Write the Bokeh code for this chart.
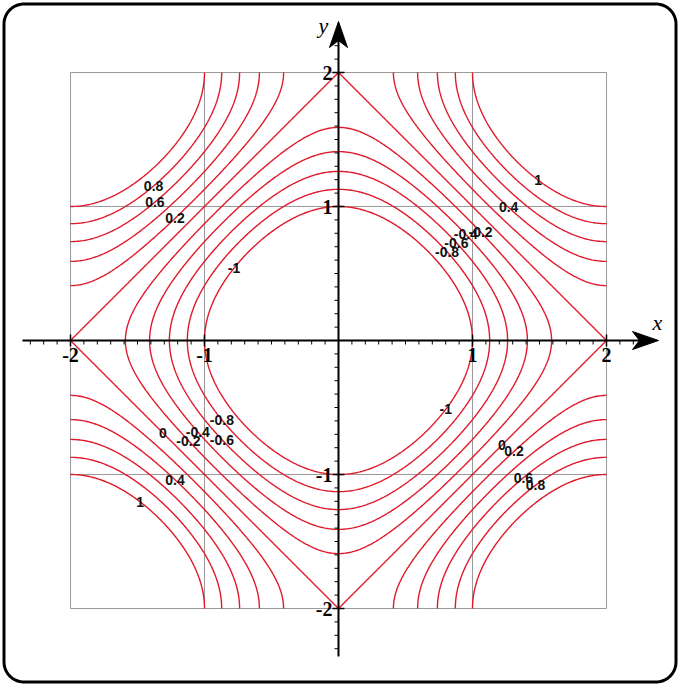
import numpy as np
from bokeh.plotting import figure
from bokeh.models import Range1d
from bokeh.embed import file_html
from bokeh.resources import INLINE
from bokeh.core.properties import value

# Level curves of f(x, y) = -(cos(pi*x/2) + cos(pi*y/2)) on [-2, 2] x [-2, 2]
levels = [-1.0, -0.8, -0.6, -0.4, -0.2, 0.0, 0.2, 0.4, 0.6, 0.8, 1.0]
grid_values = [-2, -1, 0, 1, 2]
tick_values = [-2, -1, 1, 2]
tick_labels = ["-2", "-1", "1", "2"]

# Inline contour labels: the level, the x where it sits on its curve,
# and the half-plane (+1 above the x-axis, -1 below)
label_levels = [0.8, 0.6, 0.2, -1.0,
                1.0, 0.4, -0.8, -0.6, -0.4, -0.2,
                0.0, -0.2, -0.4, -0.6, -0.8, 0.4, 1.0,
                0.0, 0.2, 0.6, 0.8, -1.0]
label_x = [-1.38, -1.37, -1.22, -0.78,
           1.49, 1.27, 0.81, 0.88, 0.95, 1.06,
           -1.31, -1.12, -1.05, -0.87, -0.87, -1.22, -1.48,
           1.22, 1.31, 1.38, 1.47, 0.80]
label_side = [1, 1, 1, 1,
              1, 1, 1, 1, 1, 1,
              -1, -1, -1, -1, -1, -1, -1,
              -1, -1, -1, -1, -1]


def f(x, y):
    return -(np.cos(np.pi * x / 2) + np.cos(np.pi * y / 2))


# sample grid for the contour renderer
xs = np.linspace(-2, 2, 401)
ys = np.linspace(-2, 2, 397)
X, Y = np.meshgrid(xs, ys)
Z = f(X, Y)

# put each label on its own curve: solve f(x, y) = level for y
lx = np.array(label_x)
ll = np.array(label_levels)
ly = np.array(label_side) * (2 / np.pi) * np.arccos(np.clip(-ll - np.cos(np.pi * lx / 2), -1, 1))
ltext = [f"{v:g}" for v in label_levels]

# canvas geometry: 134 px per unit, origin at pixel (338, 340)
W, H = 679, 685
S, OX, OY = 134.0, 338.0, 340.0


def px(u):
    return (np.asarray(u, dtype=float) - OX) / S


def py(v):
    return (OY - np.asarray(v, dtype=float)) / S


p = figure(width=W, height=H, output_backend="svg", toolbar_location=None,
           x_axis_type=None, y_axis_type=None,
           x_range=Range1d(px(0), px(W)), y_range=Range1d(py(H), py(0)),
           min_border=0, outline_line_color=None,
           background_fill_color="white", border_fill_color="white")
p.grid.visible = False

# light grid on the square
p.segment(x0=grid_values, y0=-2, x1=grid_values, y1=2, line_color="#9a9a9a", line_width=1)
p.segment(x0=-2, y0=grid_values, x1=2, y1=grid_values, line_color="#9a9a9a", line_width=1)

# level curves
p.contour(x=xs, y=ys, z=Z, levels=levels, line_color="#e01a2a", line_width=1.4)

# axes through the origin
p.line(x=[px(22), px(640)], y=[0, 0], line_color="black", line_width=2)
p.line(x=[0, 0], y=[py(656), py(40)], line_color="black", line_width=2)
p.patch(x=px([658, 632, 639, 632]), y=py([340, 331, 340, 349]), fill_color="black", line_color="black")
p.patch(x=px([338, 329, 338, 347]), y=py([21, 47, 40, 47]), fill_color="black", line_color="black")

# minor ticks every 0.1, major ticks at the integers
minor = [k / 10 for k in range(-23, 24) if k % 10 != 0]
d_minor = 4 / S
d_major = 6 / S
p.segment(x0=minor, y0=0, x1=minor, y1=-d_minor, line_color="black", line_width=1)
p.segment(x0=0, y0=minor, x1=-d_minor, y1=minor, line_color="black", line_width=1)
p.segment(x0=tick_values, y0=-d_major, x1=tick_values, y1=d_major, line_color="black", line_width=1.5)
p.segment(x0=-d_major, y0=tick_values, x1=d_major, y1=tick_values, line_color="black", line_width=1.5)

# tick labels
p.text(x=tick_values, y=0, text=tick_labels, y_offset=14, text_align="center", text_baseline="middle",
       text_font=value("Liberation Serif"), text_font_style="bold", text_font_size="20px", text_color="black")
p.text(x=0, y=tick_values, text=tick_labels, x_offset=-6, text_align="right", text_baseline="middle",
       text_font=value("Liberation Serif"), text_font_style="bold", text_font_size="20px", text_color="black")

# axis names
p.text(x=[px(657)], y=[py(322)], text=["x"], text_align="center", text_baseline="middle",
       text_font=value("Liberation Serif"), text_font_style="italic", text_font_size="22px", text_color="black")
p.text(x=[px(323)], y=[py(25)], text=["y"], text_align="center", text_baseline="middle",
       text_font=value("Liberation Serif"), text_font_style="italic", text_font_size="22px", text_color="black")

# contour value labels
p.text(x=lx, y=ly, text=ltext, text_align="center", text_baseline="middle",
       text_font=value("Liberation Sans"), text_font_style="bold", text_font_size="14px", text_color="#111111")

# rounded frame around the whole picture
l, r, t, b, rad = 3.5, 675.5, 3.5, 681.5, 20.0
fx, fy = [], []
for cx, cy, a0 in [(r - rad, t + rad, -np.pi / 2), (r - rad, b - rad, 0.0),
                   (l + rad, b - rad, np.pi / 2), (l + rad, t + rad, np.pi)]:
    a = np.linspace(a0, a0 + np.pi / 2, 16)
    fx.extend(cx + rad * np.cos(a))
    fy.extend(cy + rad * np.sin(a))
fx.append(fx[0])
fy.append(fy[0])
p.line(x=px(fx), y=py(fy), line_color="black", line_width=3)

open("out.html", "w").write(file_html(p, INLINE))
